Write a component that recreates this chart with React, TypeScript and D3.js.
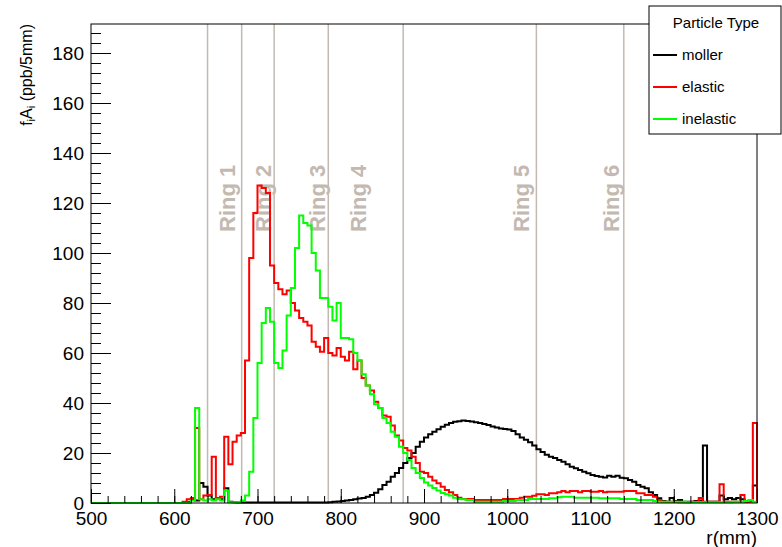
import React, { useEffect, useRef } from 'react'
import * as d3 from 'd3'

// 5 mm bins from 500 to 1300 mm, one row = 10 bins (50 mm)
const binStart = 500
const binWidth = 5

const mollerValues = [
  0, 0, 0, 0, 0, 0, 0, 0, 0, 0,
  0, 0, 0, 0, 0, 0, 0, 0, 0, 0,
  0, 0, 0, 0.3, 1.5, 1, 8, 6.5, 3, 1.5,
  2, 1.5, 5.9, 0.5, 0.3, 0.2, 0.2, 0.2, 0.2, 0.2,
  0.2, 0.2, 0.2, 0.2, 0.2, 0.2, 0.2, 0.2, 0.2, 0.2,
  0.2, 0.2, 0.2, 0.2, 0.2, 0.2, 0.2, 0.3, 0.5, 0.6,
  0.8, 1, 1.2, 1.5, 1.8, 2, 2.5, 3.2, 4.1, 5.5,
  7.2, 8.5, 10.5, 12, 14, 16, 18, 20, 22.5, 24.5,
  26.2, 27.5, 28.5, 29.5, 30.5, 31.3, 32, 32.5, 32.7, 33,
  32.8, 32.6, 32.3, 32, 31.6, 31.2, 30.6, 30.2, 29.8, 29.6,
  29.4, 28.8, 27.5, 26.2, 25.3, 24.3, 23, 21.5, 20.4, 19.3,
  18.5, 18, 17.2, 16.5, 15.5, 14.5, 13.9, 13.2, 12.5, 11.9,
  11.2, 10.8, 10.5, 10.2, 10.9, 10.5, 10.9, 10.1, 9.9, 9.2,
  8.5, 7.2, 6.5, 5.9, 4.3, 3.2, 1.9, 0.8, 0.5, 2,
  0.8, 1.2, 0.5, 0.5, 0.5, 0.8, 1, 23, 0.5, 0.5,
  0.5, 3, 1.5, 2, 1.5, 2, 1.5, 0.5, 1, 7
]

const elasticValues = [
  0, 0, 0, 0, 0, 0, 0, 0, 0, 0,
  0, 0, 0, 0, 0, 0, 0, 0, 0, 0,
  0, 0, 0.5, 1.5, 2, 30, 1.5, 3, 3.2, 18.5,
  2, 2.5, 26.5, 15.5, 24.5, 27, 28, 57, 98, 116,
  127, 126, 124, 95, 88, 85.5, 83.5, 85, 80, 77,
  74, 72.5, 71, 64.5, 62.5, 60.5, 66, 60, 59, 62,
  58.5, 57, 60.5, 53.5, 57, 50, 47, 45, 40.5, 38,
  35, 34.5, 31, 27, 25, 22, 21, 18.5, 16, 12.5,
  12, 10.5, 9, 7.9, 6.5, 5.2, 4.3, 3.2, 2.1, 1.6,
  1.6, 1.6, 1.2, 1.2, 1.2, 1.2, 1.2, 1.2, 1.2, 1.6,
  1.6, 1.6, 1.6, 2.1, 2.5, 2.5, 2.9, 3.5, 3.5, 3.2,
  3.9, 3.9, 4.3, 4.8, 4.3, 4.8, 4.8, 4.3, 4.8, 4.8,
  4.5, 4.5, 4.8, 4.3, 4.5, 4.5, 4.5, 4.5, 4.8, 4.8,
  4.8, 3.9, 3.9, 3.2, 3.2, 2.5, 1.2, 0.5, 0.5, 0.5,
  0.5, 0.3, 0.3, 0.3, 0.5, 0.5, 2, 0.5, 0.5, 0.5,
  0.5, 7.5, 0.5, 0.5, 0.5, 0.5, 3.2, 0.5, 0.5, 32
]

const inelasticValues = [
  0, 0, 0, 0, 0, 0, 0, 0, 0, 0,
  0, 0, 0, 0, 0, 0, 0, 0, 0, 0,
  0, 0, 0, 0, 1, 38, 1.5, 1, 1.5, 1,
  1.5, 1, 5, 0.3, 0.3, 0.3, 1, 3, 12.5, 34,
  56, 72, 78, 72.5, 56, 54, 61, 75, 86, 102,
  115, 112, 111, 100, 93, 82, 82, 78.5, 73, 80,
  66, 66, 65.5, 60, 57, 51.5, 47, 43.5, 39.5, 38,
  34, 32, 28.5, 26.5, 22.5, 20, 17.2, 14, 12, 10,
  8.2, 7, 6, 5, 4, 3.5, 3, 2.1, 1.6, 1.5,
  1.2, 1.2, 0.5, 0.5, 0.5, 0.5, 0.5, 0.5, 0.5, 0.8,
  0.8, 0.8, 1.2, 1.2, 1.2, 1.6, 1.6, 1.6, 1.6, 1.6,
  1.9, 1.9, 2.3, 2.5, 2.5, 2.5, 2.1, 2.1, 2.1, 2.1,
  2.1, 2.1, 1.9, 1.9, 1.9, 1.9, 1.9, 1.6, 1.6, 1.6,
  1.6, 1.2, 1.2, 1.2, 1.2, 0.8, 0.5, 0.5, 0.5, 0.5,
  0.5, 0.5, 0.5, 0.3, 0.3, 0.3, 0.3, 0.3, 0.3, 0.3,
  0.3, 0.3, 0.3, 0.3, 0.5, 0.5, 0.5, 0.8, 1.2, 0.5
]

const series = [
  { name: 'moller', color: '#000000', values: mollerValues },
  { name: 'elastic', color: '#ff0000', values: elasticValues },
  { name: 'inelastic', color: '#00ff00', values: inelasticValues }
]

const ringEdges = [640, 681, 720, 785, 875, 1035, 1140]
const ringLabels = ['Ring 1', 'Ring 2', 'Ring 3', 'Ring 4', 'Ring 5', 'Ring 6']
const ringLabelX = [663, 707, 771, 821, 1017, 1125]

const xMajorTicks = [500, 600, 700, 800, 900, 1000, 1100, 1200, 1300]
const yMajorTicks = [0, 20, 40, 60, 80, 100, 120, 140, 160, 180]

const font = '"Liberation Sans", Arial, Helvetica, sans-serif'

export default function App() {
  const ref = useRef<SVGSVGElement | null>(null)

  useEffect(() => {
    if (!ref.current) {
      return
    }
    const svg = d3.select(ref.current)
    svg.selectAll('*').remove()

    const width = 782
    const height = 547
    const left = 91
    const right = 757
    const top = 24
    const bottom = 503

    const x = d3.scaleLinear().domain([500, 1300]).range([left, right])
    const y = d3.scaleLinear().domain([0, 191.6]).range([bottom, top])

    svg.attr('width', width).attr('height', height)
    svg.append('rect').attr('width', width).attr('height', height).attr('fill', '#ffffff')

    // ring boundaries
    svg
      .append('g')
      .selectAll('line')
      .data(ringEdges)
      .enter()
      .append('line')
      .attr('x1', (d) => x(d))
      .attr('x2', (d) => x(d))
      .attr('y1', top)
      .attr('y2', bottom)
      .attr('stroke', '#c3b9b0')
      .attr('stroke-width', 1.5)

    svg
      .append('g')
      .selectAll('text')
      .data(ringLabels)
      .enter()
      .append('text')
      .attr('transform', (d, i) => `translate(${x(ringLabelX[i])},232) rotate(-90)`)
      .attr('dy', '0.36em')
      .attr('font-family', font)
      .attr('font-weight', 'bold')
      .attr('font-size', 22)
      .attr('fill', '#c3b9b0')
      .text((d) => d)

    // histograms
    const line = d3
      .line<[number, number]>()
      .x((d) => x(d[0]))
      .y((d) => y(d[1]))
      .curve(d3.curveStepAfter)

    series.forEach((s) => {
      const pts: [number, number][] = s.values.map((v, i) => [binStart + i * binWidth, v])
      const last = s.values[s.values.length - 1]
      pts.push([binStart + s.values.length * binWidth, last])
      pts.push([binStart + s.values.length * binWidth, 0])
      svg
        .append('path')
        .attr('d', line(pts) ?? '')
        .attr('fill', 'none')
        .attr('stroke', s.color)
        .attr('stroke-width', 2)
    })

    // axes (ticks pointing inward, ROOT style)
    const xAxis = svg.append('g').attr('transform', `translate(0,${bottom})`)
    xAxis.call(
      d3.axisBottom(x).tickValues(d3.range(500, 1301, 20)).tickSize(-7).tickFormat(() => '')
    )
    xAxis
      .append('g')
      .call(d3.axisBottom(x).tickValues(xMajorTicks).tickSize(-14).tickPadding(9).tickFormat(d3.format('d')))
    xAxis.selectAll('.domain').remove()
    xAxis.selectAll('line').attr('stroke', '#000')
    xAxis.selectAll('text').attr('font-family', font).attr('font-size', 19).attr('fill', '#000')

    const yAxis = svg.append('g').attr('transform', `translate(${left},0)`)
    yAxis.call(d3.axisLeft(y).tickValues(d3.range(0, 191, 4)).tickSize(-10).tickFormat(() => ''))
    yAxis
      .append('g')
      .call(d3.axisLeft(y).tickValues(yMajorTicks).tickSize(-20).tickPadding(7).tickFormat(d3.format('d')))
    yAxis.selectAll('.domain').remove()
    yAxis.selectAll('line').attr('stroke', '#000')
    yAxis.selectAll('text').attr('font-family', font).attr('font-size', 19).attr('fill', '#000')

    // frame
    svg
      .append('rect')
      .attr('x', left)
      .attr('y', top)
      .attr('width', right - left)
      .attr('height', bottom - top)
      .attr('fill', 'none')
      .attr('stroke', '#000')
      .attr('stroke-width', 1)

    // axis titles
    svg
      .append('text')
      .attr('x', right)
      .attr('y', 544)
      .attr('text-anchor', 'end')
      .attr('font-family', font)
      .attr('font-size', 19)
      .text('r(mm)')

    const yTitle = svg
      .append('text')
      .attr('transform', `translate(32,${top}) rotate(-90)`)
      .attr('text-anchor', 'end')
      .attr('font-family', font)
      .attr('font-size', 16)
    yTitle.append('tspan').text('f')
    yTitle.append('tspan').attr('font-size', 11).attr('dy', 3).text('i')
    yTitle.append('tspan').attr('dy', -3).text('A')
    yTitle.append('tspan').attr('font-size', 11).attr('dy', 3).text('i')
    yTitle.append('tspan').attr('dy', -3).text(' (ppb/5mm)')

    // legend
    const legend = svg.append('g')
    legend
      .append('rect')
      .attr('x', 649)
      .attr('y', 6)
      .attr('width', 132)
      .attr('height', 128)
      .attr('fill', '#ffffff')
      .attr('stroke', '#000')
      .attr('stroke-width', 1)
    legend
      .append('text')
      .attr('x', 716)
      .attr('y', 28)
      .attr('text-anchor', 'middle')
      .attr('font-family', font)
      .attr('font-size', 15)
      .text('Particle Type')

    const rows = legend
      .selectAll('g.entry')
      .data(series)
      .enter()
      .append('g')
      .attr('class', 'entry')
      .attr('transform', (d, i) => `translate(0,${55 + i * 32})`)
    rows
      .append('line')
      .attr('x1', 653)
      .attr('x2', 677)
      .attr('y1', 0)
      .attr('y2', 0)
      .attr('stroke', (d) => d.color)
      .attr('stroke-width', 2)
    rows
      .append('text')
      .attr('x', 682)
      .attr('y', 0)
      .attr('dy', '0.35em')
      .attr('font-family', font)
      .attr('font-size', 15)
      .text((d) => d.name)
  }, [])

  return (
    <svg
      ref={ref}
      style={{ position: 'absolute', left: 0, top: 0, display: 'block' }}
      role="img"
      aria-label="Particle type rate distribution"
    />
  )
}
